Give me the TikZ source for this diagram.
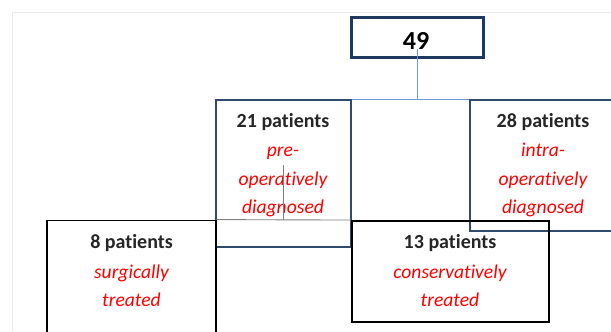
\documentclass[tikz,border=0pt]{standalone}
\usepackage{fontspec}
\setmainfont{Carlito}[Ligatures={NoCommon,NoRare}]
\definecolor{navydark}{HTML}{1F3A5F}
\definecolor{navybox}{HTML}{2F4B6E}
\definecolor{connblue}{HTML}{6A9BD6}
\definecolor{grayline}{HTML}{808080}
\definecolor{bgline}{HTML}{EBEBEB}
\definecolor{redtext}{HTML}{FF0000}
\begin{document}
\begin{tikzpicture}[x=1pt,y=-1pt,
  topbox/.style={draw=navydark,line width=3.5pt,rectangle,inner sep=0pt},
  navyrect/.style={draw=navybox,line width=1.6pt,rectangle,inner sep=0pt},
  blackrect/.style={draw=black,line width=1.8pt,rectangle,inner sep=0pt},
  blktxt/.style={font=\fontsize{20}{24}\selectfont\bfseries,text=black!85,anchor=base,inner sep=0pt},
  bigtxt/.style={font=\fontsize{26}{30}\selectfont\bfseries,text=black,anchor=base,inner sep=0pt},
  redtxt/.style={font=\fontsize{19.6}{23}\selectfont\itshape,text=redtext,anchor=base,inner sep=0pt},
  conn/.style={draw=connblue,line width=1.1pt},
  grayconn/.style={draw=grayline,line width=0.9pt}]
\useasboundingbox (0,0) rectangle (611,332);
\fill[white] (0,0) rectangle (611,332);
\clip (0,0) rectangle (611,332);
\draw[bgline,line width=0.8pt] (12,332) -- (12,12) -- (611,12);

% boxes
\node[topbox,minimum width=132pt,minimum height=40pt] (n49) at (417.5,37.5) {};
\node[navyrect,minimum width=134.7pt,minimum height=147pt] (b21) at (283.35,173.5) {};
\node[navyrect,minimum width=146pt,minimum height=131pt] (b28) at (543,165.5) {};
\node[blackrect,minimum width=168.4pt,minimum height=124.5pt] (b8) at (131.5,282.75) {};
\node[blackrect,minimum width=197.6pt,minimum height=101.3pt] (b13) at (450.5,271.6) {};

% texts
\node[bigtxt] (t49) at (416,49.3) {49};
\node[blktxt] (t21) at (283,127.5) {21 patients};
\node[redtxt] (t21a) at (283,156.5) {pre-};
\node[redtxt] (t21b) at (283,185.5) {operatively};
\node[redtxt] (t21c) at (283,213.5) {diagnosed};
\node[blktxt] (t28) at (543,127.5) {28 patients};
\node[redtxt] (t28a) at (543,156.5) {intra-};
\node[redtxt] (t28b) at (543,185.5) {operatively};
\node[redtxt] (t28c) at (543,213.5) {diagnosed};
\node[blktxt] (t8) at (131.5,248) {8 patients};
\node[redtxt] (t8a) at (131.5,278) {surgically};
\node[redtxt] (t8b) at (131.5,306) {treated};
\node[blktxt] (t13) at (450,248) {13 patients};
\node[redtxt] (t13a) at (450,278) {conservatively};
\node[redtxt] (t13b) at (450,306) {treated};

% connectors
\coordinate (j) at (n49.center |- b21.north);
\draw[conn] (n49.center |- t49.base) -- (j);
\draw[conn] (b21.north east) -- (b28.north west);
\coordinate (g) at (283,165);
\draw[grayconn] (g) -- (g |- b8.north);
\draw[grayconn] (b8.north east) -- (b13.north west);
\end{tikzpicture}
\end{document}
